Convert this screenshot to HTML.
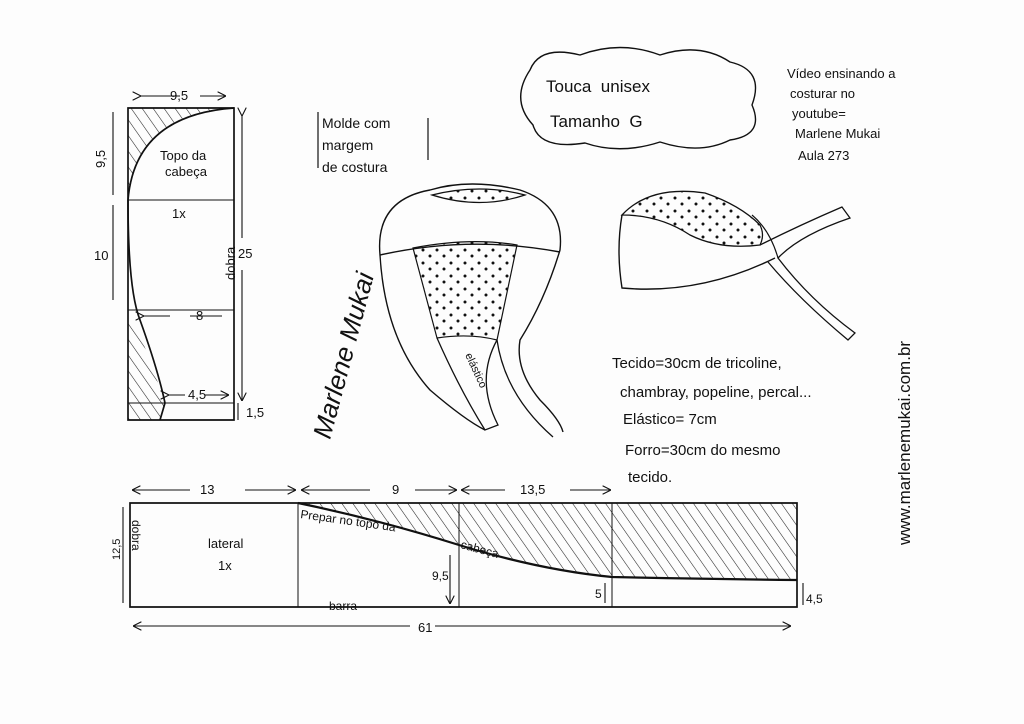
<!DOCTYPE html>
<html><head><meta charset="utf-8"><style>
html,body{margin:0;padding:0;background:#fff}
svg{display:block}
text{font-family:"Liberation Sans",sans-serif;fill:#111}
</style></head><body>
<svg width="1024" height="724" viewBox="0 0 1024 724" xmlns="http://www.w3.org/2000/svg">
<defs>
<pattern id="h" width="9" height="9" patternUnits="userSpaceOnUse" patternTransform="rotate(-35)">
<line x1="0" y1="0" x2="0" y2="9" stroke="#222" stroke-width="1.1"/></pattern>
<pattern id="d" width="14" height="13" patternUnits="userSpaceOnUse">
<circle cx="3" cy="3" r="1.5" fill="#111"/><circle cx="10" cy="9" r="1.5" fill="#111"/></pattern>
<marker id="a" markerWidth="8" markerHeight="8" refX="7" refY="4" orient="auto"><path d="M0,0 L8,4 L0,8" fill="none" stroke="#111"/></marker>
</defs>
<rect width="1024" height="724" fill="#fdfdfd"/>
<g stroke="#111" stroke-width="1.7" fill="none">
<path d="M128,108 L234,108 Q135,115 128,200 L128,310 Q140,330 165,403 L160,420 L128,420 Z" fill="url(#h)" stroke="none"/>
<path d="M128,108 H234 V420 H128 Z"/>
<path d="M234,108 Q135,115 128,200 Q128,290 140,320 Q158,370 165,403 L160,420"/>
<line x1="128" y1="200" x2="234" y2="200" stroke-width="1"/>
<line x1="128" y1="310" x2="234" y2="310" stroke-width="1"/>
<line x1="128" y1="403" x2="234" y2="403" stroke-width="1"/>
<g stroke-width="1.1">
<line x1="140" y1="96" x2="180" y2="96" marker-start="url(#a)"/><line x1="200" y1="96" x2="225" y2="96" marker-end="url(#a)"/>
<line x1="113" y1="112" x2="113" y2="195" /><line x1="113" y1="205" x2="113" y2="300"/>
<line x1="242" y1="115" x2="242" y2="238" marker-start="url(#a)"/><line x1="242" y1="270" x2="242" y2="400" marker-end="url(#a)"/>
<line x1="143" y1="316" x2="170" y2="316" marker-start="url(#a)"/><line x1="190" y1="316" x2="222" y2="316"/>
<line x1="168" y1="395" x2="185" y2="395" marker-start="url(#a)"/><line x1="205" y1="395" x2="228" y2="395" marker-end="url(#a)"/>
<line x1="238" y1="403" x2="238" y2="420"/>
</g>
<path d="M298,503 Q380,520 459,545 Q540,570 612,577 Q700,579 797,580 V503 Z" fill="url(#h)" stroke="none"/>
<path d="M130,503 H797 V607 H130 Z"/>
<path d="M298,503 Q380,520 459,545 Q540,570 612,577 Q700,579 797,580" stroke-width="2.2"/>
<line x1="298" y1="503" x2="298" y2="607" stroke-width="1"/>
<line x1="459" y1="503" x2="459" y2="607" stroke-width="1"/>
<line x1="612" y1="503" x2="612" y2="607" stroke-width="1"/>
<g stroke-width="1.1">
<line x1="190" y1="490" x2="133" y2="490" marker-end="url(#a)"/><line x1="245" y1="490" x2="295" y2="490" marker-end="url(#a)"/>
<line x1="370" y1="490" x2="302" y2="490" marker-end="url(#a)"/><line x1="415" y1="490" x2="456" y2="490" marker-end="url(#a)"/>
<line x1="505" y1="490" x2="462" y2="490" marker-end="url(#a)"/><line x1="570" y1="490" x2="610" y2="490" marker-end="url(#a)"/>
<line x1="123" y1="507" x2="123" y2="603"/>
<line x1="410" y1="626" x2="134" y2="626" marker-end="url(#a)"/><line x1="435" y1="626" x2="790" y2="626" marker-end="url(#a)"/>
<line x1="450" y1="555" x2="450" y2="603" marker-end="url(#a)"/>
<line x1="605" y1="583" x2="605" y2="603"/>
<line x1="803" y1="583" x2="803" y2="605"/>
</g>
<path d="M530,70 Q540,45 580,55 Q620,40 660,55 Q700,42 730,62 Q765,70 752,105 Q765,135 730,140 Q700,155 660,142 Q620,155 585,143 Q540,150 533,125 Q510,100 530,70 Z" stroke-width="1.4"/>
<line x1="318" y1="112" x2="318" y2="168" stroke-width="1.2"/><line x1="428" y1="118" x2="428" y2="160" stroke-width="1.2"/>
<path d="M380,255 Q375,200 430,190 Q470,178 520,190 Q565,205 560,250 Q545,300 520,340 Q515,370 540,400 Q560,420 563,432" stroke-width="1.4"/>
<path d="M380,255 Q385,340 430,390 Q465,420 485,430" stroke-width="1.4"/>
<path d="M380,255 Q470,235 560,252" stroke-width="1.4"/>
<path d="M432,195 Q480,210 525,195 Q480,183 432,195 Z" fill="url(#d)" stroke-width="1.2"/>
<path d="M413,248 Q470,237 517,245 L497,340 Q470,333 437,338 Z" fill="url(#d)" stroke-width="1.2"/>
<path d="M437,338 Q460,390 485,430 L498,425 Q475,380 497,340" stroke-width="1.3"/>
<path d="M497,340 Q505,395 553,437" stroke-width="1.3"/>
<path d="M622,215 Q616,250 622,288 Q700,295 775,258" stroke-width="1.4"/>
<path d="M622,215 Q650,185 705,193 Q740,205 760,225 Q765,235 760,245 Q720,250 690,235 Q660,215 622,215 Z" fill="url(#d)" stroke-width="1.3"/>
<path d="M760,245 Q800,225 842,207 L850,218 Q800,235 778,258 Q810,300 855,333 L848,340 Q800,300 768,262" stroke-width="1.3"/>
<path d="M752,215 Q770,230 778,258" stroke-width="1.2"/>
</g>
<g font-size="13">
<text x="170" y="100">9,5</text><text x="92" y="165" transform="rotate(-90 100 160)">9,5</text>
<text x="94" y="260">10</text><text x="238" y="258">25</text>
<text x="196" y="320">8</text><text x="188" y="399">4,5</text><text x="246" y="417">1,5</text>
<text x="160" y="160">Topo da</text><text x="165" y="176">cabeça</text><text x="172" y="218">1x</text>
<text x="225" y="290" transform="rotate(-90 225 280)">dobra</text>
<text x="200" y="494">13</text><text x="392" y="494">9</text><text x="520" y="494">13,5</text>
<text x="208" y="548">lateral</text><text x="218" y="570">1x</text>
<text x="300" y="518" font-size="12" transform="rotate(8 300 518)">Prepar no topo da</text>
<text x="460" y="548" font-size="12" transform="rotate(15 460 548)">cabeça</text>
<text x="325" y="610" font-size="12">-barra-</text>
<text x="432" y="580" font-size="12">9,5</text><text x="595" y="598" font-size="12">5</text><text x="806" y="603" font-size="12">4,5</text>
<text x="418" y="632">61</text>
<text x="112" y="568" font-size="11" transform="rotate(-90 112 560)">12,5</text>
<text x="132" y="520" font-size="12" transform="rotate(90 132 520)">dobra</text>
<text x="546" y="92" font-size="17">Touca&#160;&#160;unisex</text>
<text x="550" y="127" font-size="17">Tamanho&#160;&#160;G</text>
<text x="787" y="78" font-size="13">Vídeo ensinando a</text>
<text x="790" y="98" font-size="13">costurar no</text>
<text x="792" y="118" font-size="13">youtube=</text>
<text x="795" y="138" font-size="13">Marlene Mukai</text>
<text x="798" y="160" font-size="13">Aula 273</text>
<text x="322" y="128" font-size="14">Molde com</text>
<text x="322" y="150" font-size="14">margem</text>
<text x="322" y="172" font-size="14">de costura</text>
<text x="612" y="368" font-size="15">Tecido=30cm de tricoline,</text>
<text x="620" y="397" font-size="15">chambray, popeline, percal...</text>
<text x="623" y="424" font-size="15">Elástico= 7cm</text>
<text x="625" y="455" font-size="15">Forro=30cm do mesmo</text>
<text x="628" y="482" font-size="15">tecido.</text>
<text x="465" y="355" font-size="11" transform="rotate(65 465 355)">elástico</text>
<text x="910" y="545" font-size="17" transform="rotate(-90 910 545)">www.marlenemukai.com.br</text>
<text x="330" y="440" font-size="26" font-style="italic" transform="rotate(-75 330 440)">Marlene Mukai</text>
</g>
</svg>
</body></html>
